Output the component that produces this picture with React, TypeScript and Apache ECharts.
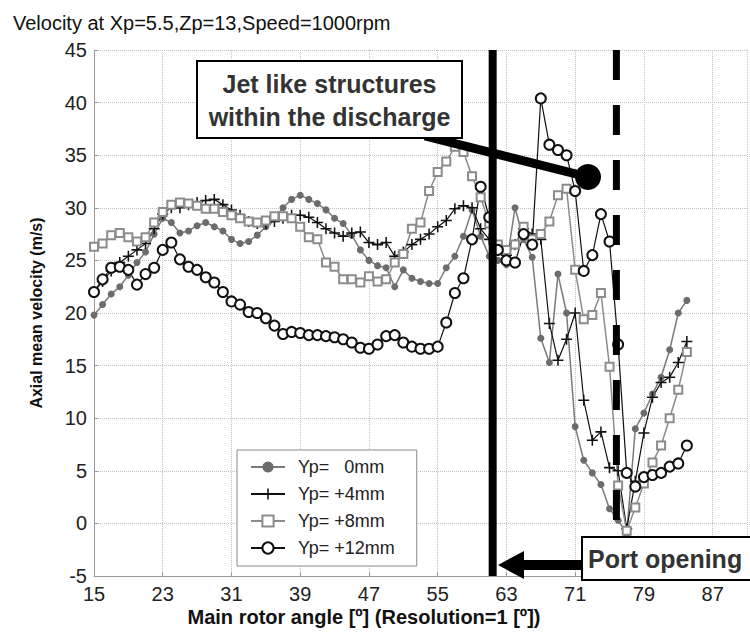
import React, { useEffect, useRef } from "react";
import * as echarts from "echarts";

// Main rotor angle [deg], resolution 1 deg
const angles = [
  15, 16, 17, 18, 19, 20, 21, 22, 23, 24, 25, 26, 27, 28, 29, 30, 31, 32, 33, 34,
  35, 36, 37, 38, 39, 40, 41, 42, 43, 44, 45, 46, 47, 48, 49, 50, 51, 52, 53, 54,
  55, 56, 57, 58, 59, 60, 61, 62, 63, 64, 65, 66, 67, 68, 69, 70, 71, 72, 73, 74,
  75, 76, 77, 78, 79, 80, 81, 82, 83, 84,
];

// Yp = 0 mm
const yp0 = [
  19.8, 20.8, 21.8, 22.5, 23.6, 24.8, 25.8, 27.5, 29.0, 28.6, 27.6, 27.8, 28.3, 28.6, 28.2, 27.8, 27.0, 26.6, 26.8, 27.4,
  28.2, 29.0, 30.0, 30.8, 31.2, 30.8, 30.4, 29.8, 29.0, 28.5, 27.4, 26.0, 25.0, 24.5, 24.3, 22.5, 24.1, 23.3, 23.0, 22.8,
  22.8, 24.3, 25.4, 27.3, 29.8, 27.3, 25.4, 25.0, 24.6, 30.0, 27.0, 25.3, 17.6, 15.3, 23.7, 20.0, 9.2, 6.0, 4.8, 3.7,
  1.4, 0.3, -1.0, 9.0, 10.5, 12.3, 13.9, 16.5, 20.0, 21.2,
];

// Yp = +4 mm
const yp4 = [
  22.0, 23.0, 24.0, 24.8, 25.4, 26.0, 26.6, 28.0, 29.4, 30.0, 30.0, 30.3, 30.5, 30.7, 30.8, 30.3, 29.8, 29.3, 28.7, 28.5,
  28.5, 28.7, 29.0, 29.3, 29.3, 29.1, 28.6, 28.0, 27.6, 27.3, 27.6, 27.7, 26.7, 26.5, 26.7, 25.4, 25.8, 26.5, 27.0, 27.5,
  28.2, 28.8, 29.9, 30.2, 30.0, 28.0, 27.0, 26.0, 25.5, 26.5, 28.0, 27.5, 27.0, 19.0, 15.5, 17.5, 20.0, 11.7, 7.9, 8.7,
  5.3, 5.0, -0.5, 4.0, 8.6, 12.0, 13.4, 13.9, 15.3, 17.3,
];

// Yp = +8 mm
const yp8 = [
  26.3, 26.6, 27.4, 27.6, 27.2, 26.8, 27.2, 28.6, 29.6, 30.3, 30.5, 30.4, 30.2, 29.9, 29.9, 29.6, 29.3, 29.0, 28.7, 28.6,
  28.8, 29.2, 29.2, 29.0, 28.2, 27.2, 27.0, 24.8, 24.4, 23.2, 23.2, 22.9, 23.5, 23.0, 23.2, 24.8, 25.6, 28.0, 28.6, 31.6,
  33.4, 34.4, 35.8, 35.3, 33.0, 31.0, 28.5, 26.5, 26.0, 26.5, 28.2, 27.0, 27.5, 28.7, 31.2, 31.8, 24.1, 19.4, 19.8, 21.9,
  14.9, 3.6, -0.7, 1.5, 3.8, 5.8, 7.4, 10.0, 12.7, 16.3,
];

// Yp = +12 mm
const yp12 = [
  22.0, 23.2, 24.3, 24.4, 24.1, 22.7, 23.7, 24.3, 26.0, 26.7, 25.1, 24.4, 24.1, 23.4, 22.9, 22.0, 21.1, 20.8, 20.1, 20.0,
  19.5, 18.8, 18.0, 18.2, 18.1, 17.9, 17.9, 17.8, 17.7, 17.5, 17.2, 16.7, 16.6, 17.0, 17.8, 17.9, 17.2, 16.8, 16.6, 16.6,
  16.8, 19.1, 21.9, 23.3, 27.0, 32.0, 29.1, 26.0, 25.0, 24.8, 27.5, 26.5, 40.4, 36.0, 35.5, 35.0, 31.6, 24.0, 25.5, 29.4,
  26.8, 17.0, 4.8, 3.5, 4.4, 4.6, 4.8, 5.4, 5.7, 7.4,
];

const seriesNames = ["Yp=   0mm", "Yp= +4mm", "Yp= +8mm", "Yp= +12mm"];

// Reference angles marked by vertical lines
const portLineAngle = [61.4];
const dashLineAngle = [75.8];
const yRange = [-5, 45];

const titleText = "Velocity at Xp=5.5,Zp=13,Speed=1000rpm";
const yTitle = "Axial mean velocity (m/s)";
const xTitle = "Main rotor angle [º] (Resolution=1 [º])";
const jetText = "Jet like structures\nwithin the discharge";
const portText = "Port opening";

const FONT = "'Liberation Sans', Arial, Helvetica, sans-serif";
const PLUS = "path://M4.3,0H5.7V4.3H10V5.7H5.7V10H4.3V5.7H0V4.3H4.3Z";

export default function App() {
  const ref = useRef<HTMLDivElement>(null);

  useEffect(() => {
    if (!ref.current) return;
    const chart = echarts.init(ref.current, null, { renderer: "svg" });
    const pairs = (vals: number[]) => angles.map((a, i) => [a, vals[i]]);
    const vline = (a: number) => [
      [a, yRange[1]],
      [a, yRange[0]],
    ];
    const gridLine = { show: true, lineStyle: { color: "#c2c2c2", type: "dotted" as any, width: 1 } };

    chart.setOption({
      animation: false,
      backgroundColor: "#fff",
      textStyle: { fontFamily: FONT },
      title: {
        text: titleText,
        left: 8,
        top: 8,
        textStyle: { fontSize: 20, fontWeight: "normal", color: "#111", fontFamily: FONT },
      },
      grid: { left: 94, right: 2.5, top: 50, bottom: 58 },
      xAxis: {
        type: "value",
        min: 15,
        max: 91,
        interval: 8,
        axisLine: { show: true, onZero: false, lineStyle: { color: "#9a9a9a", width: 1 } },
        axisTick: { show: true, inside: true, length: 4, lineStyle: { color: "#9a9a9a" } },
        axisLabel: {
          fontSize: 20,
          color: "#222",
          margin: 8,
          fontFamily: FONT,
          formatter: (v: number) => ((v - 15) % 8 === 0 ? String(v) : ""),
        },
        splitLine: gridLine,
      },
      yAxis: {
        type: "value",
        min: yRange[0],
        max: yRange[1],
        interval: 5,
        name: yTitle,
        nameLocation: "middle",
        nameGap: 50,
        nameRotate: 90,
        nameTextStyle: { fontSize: 16, fontWeight: "bold", color: "#111", fontFamily: FONT },
        axisLine: { show: true, onZero: false, lineStyle: { color: "#9a9a9a", width: 1 } },
        axisTick: { show: true, inside: true, length: 4, lineStyle: { color: "#9a9a9a" } },
        axisLabel: { fontSize: 20, color: "#222", margin: 7, fontFamily: FONT },
        splitLine: gridLine,
      },
      legend: {
        data: seriesNames,
        orient: "vertical",
        left: 237,
        top: 450,
        itemWidth: 34,
        itemHeight: 14,
        itemGap: 9,
        padding: [8, 22, 9, 13],
        backgroundColor: "#fff",
        borderColor: "#8a8a8a",
        borderWidth: 1,
        textStyle: { fontSize: 18, color: "#222", fontFamily: FONT, padding: [0, 0, 0, 8] },
      },
      series: [
        {
          name: seriesNames[0],
          type: "line",
          data: pairs(yp0),
          symbol: "circle",
          symbolSize: 7,
          lineStyle: { color: "#7a7a7a", width: 1.5 },
          itemStyle: { color: "#6c6c6c" },
        },
        {
          name: seriesNames[1],
          type: "line",
          data: pairs(yp4),
          symbol: PLUS,
          symbolSize: 11,
          lineStyle: { color: "#111", width: 1.2 },
          itemStyle: { color: "#111" },
        },
        {
          name: seriesNames[2],
          type: "line",
          data: pairs(yp8),
          symbol: "emptyRect",
          symbolSize: 8,
          lineStyle: { color: "#8c8c8c", width: 1.5 },
          itemStyle: { color: "#8c8c8c", borderWidth: 1.6 },
        },
        {
          name: seriesNames[3],
          type: "line",
          data: pairs(yp12),
          symbol: "emptyCircle",
          symbolSize: 10,
          lineStyle: { color: "#111", width: 1.2 },
          itemStyle: { color: "#111", borderWidth: 1.6 },
        },
        {
          name: "port line",
          type: "line",
          data: vline(portLineAngle[0]),
          symbol: "none",
          silent: true,
          z: 5,
          lineStyle: { color: "#000", width: 8 },
        },
        {
          name: "dash line",
          type: "line",
          data: vline(dashLineAngle[0]),
          symbol: "none",
          silent: true,
          z: 5,
          lineStyle: { color: "#000", width: 7, type: [30, 25] },
        },
      ],
      graphic: [
        {
          type: "line",
          z: 100,
          shape: { x1: 425, y1: 136, x2: 588, y2: 177 },
          style: { stroke: "#000", lineWidth: 9 },
        },
        { type: "circle", z: 101, shape: { cx: 588, cy: 177, r: 13 }, style: { fill: "#000" } },
        {
          type: "rect",
          z: 102,
          shape: { x: 197, y: 61, width: 265, height: 77 },
          style: { fill: "#fff", stroke: "#000", lineWidth: 2 },
        },
        {
          type: "text",
          z: 103,
          x: 329.5,
          y: 100,
          style: {
            text: jetText,
            fontSize: 25,
            fontWeight: "bold",
            fontFamily: FONT,
            fill: "#333",
            align: "center",
            verticalAlign: "middle",
            lineHeight: 33,
          },
        },
        {
          type: "polygon",
          z: 100,
          shape: { points: [[498, 565], [524, 551], [524, 579]] },
          style: { fill: "#000" },
        },
        { type: "rect", z: 100, shape: { x: 522, y: 560, width: 62, height: 10 }, style: { fill: "#000" } },
        {
          type: "rect",
          z: 102,
          shape: { x: 582, y: 537, width: 180, height: 43 },
          style: { fill: "#fff", stroke: "#000", lineWidth: 2 },
        },
        {
          type: "text",
          z: 103,
          x: 588,
          y: 559,
          style: {
            text: portText,
            fontSize: 25,
            fontWeight: "bold",
            fontFamily: FONT,
            fill: "#333",
            align: "left",
            verticalAlign: "middle",
          },
        },
        {
          type: "text",
          z: 103,
          x: 364,
          y: 617,
          style: {
            text: xTitle,
            fontSize: 20,
            fontWeight: "bold",
            fontFamily: FONT,
            fill: "#111",
            align: "center",
            verticalAlign: "middle",
          },
        },
      ],
    });

    return () => chart.dispose();
  }, []);

  return (
    <div
      ref={ref}
      style={{ position: "absolute", left: 0, top: 0, width: 750, height: 634 }}
    />
  );
}
